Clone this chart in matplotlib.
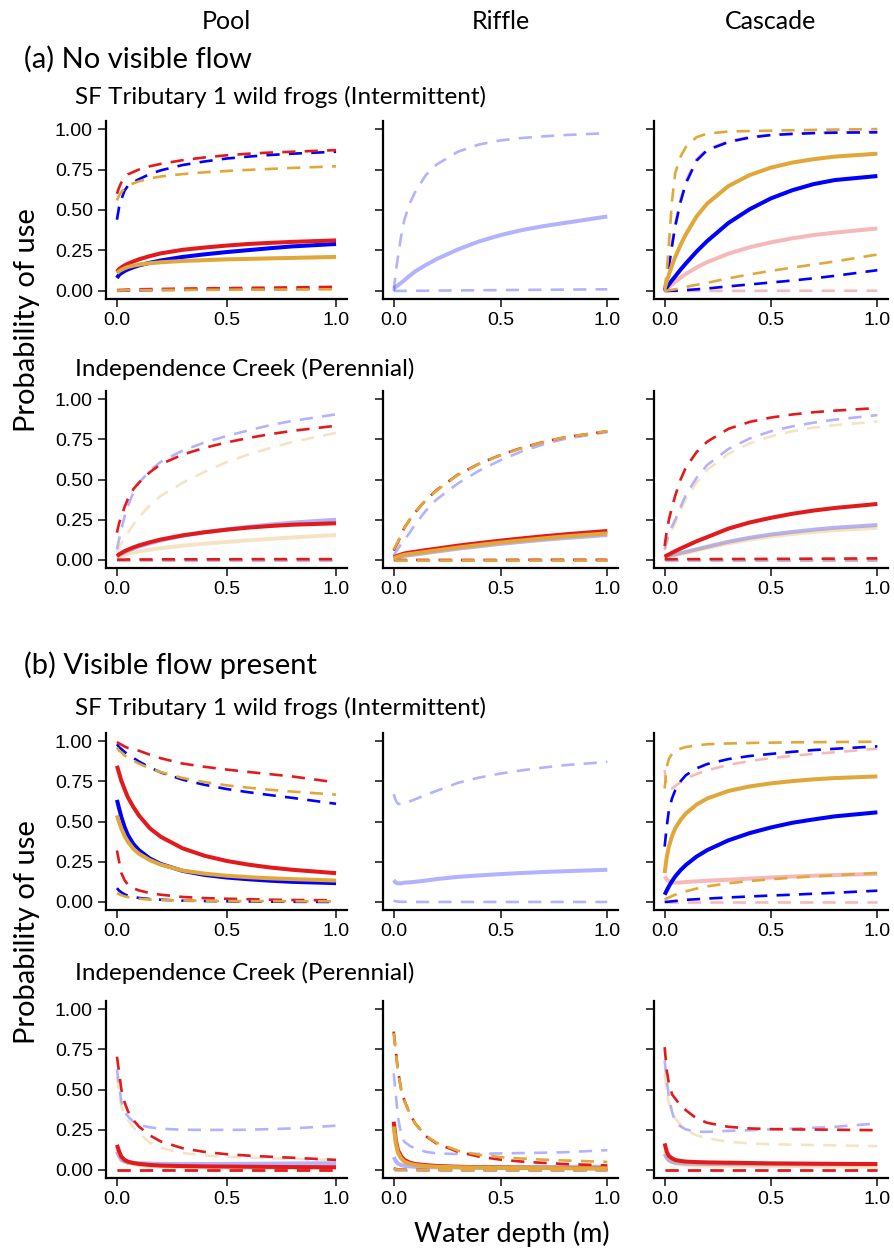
import matplotlib.pyplot as plt

W, H = 894, 1251

depth = [0, 0.01, 0.02, 0.035, 0.05, 0.075, 0.1, 0.15, 0.2, 0.3, 0.4, 0.5, 0.6, 0.7, 0.8, 1.0]

col_titles = ["Pool", "Riffle", "Cascade"]
site_titles = ["SF Tributary 1 wild frogs (Intermittent)", "Independence Creek (Perennial)"]
flow_titles = ["(a) No visible flow", "(b) Visible flow present"]
x_ticks = [0.0, 0.5, 1.0]
x_ticklabels = ["0.0", "0.5", "1.0"]
y_ticks = [0.0, 0.25, 0.5, 0.75, 1.0]
y_ticklabels = ["0.00", "0.25", "0.50", "0.75", "1.00"]

# ---- (a) no visible flow, SF Tributary 1 ----
a_sf_pool_blue_lo = [0.0, 0.001, 0.001, 0.002, 0.002, 0.003, 0.004, 0.005, 0.006, 0.007, 0.008, 0.009, 0.01, 0.011, 0.012, 0.015]
a_sf_pool_blue_mid = [0.08, 0.10, 0.11, 0.123, 0.133, 0.146, 0.157, 0.174, 0.188, 0.21, 0.226, 0.24, 0.252, 0.264, 0.275, 0.29]
a_sf_pool_blue_hi = [0.44, 0.52, 0.565, 0.62, 0.65, 0.672, 0.69, 0.722, 0.745, 0.778, 0.80, 0.818, 0.83, 0.84, 0.848, 0.86]
a_sf_pool_red_lo = [0.005, 0.006, 0.006, 0.007, 0.008, 0.009, 0.01, 0.011, 0.012, 0.014, 0.016, 0.017, 0.019, 0.02, 0.022, 0.025]
a_sf_pool_red_mid = [0.12, 0.135, 0.145, 0.158, 0.168, 0.182, 0.195, 0.215, 0.232, 0.254, 0.268, 0.28, 0.29, 0.297, 0.303, 0.312]
a_sf_pool_red_hi = [0.60, 0.64, 0.67, 0.70, 0.72, 0.735, 0.75, 0.77, 0.785, 0.808, 0.825, 0.838, 0.848, 0.855, 0.86, 0.87]
a_sf_pool_gold_lo = [0.002, 0.002, 0.003, 0.003, 0.004, 0.004, 0.005, 0.005, 0.006, 0.006, 0.007, 0.007, 0.008, 0.008, 0.009, 0.01]
a_sf_pool_gold_mid = [0.11, 0.122, 0.13, 0.14, 0.148, 0.156, 0.162, 0.171, 0.177, 0.185, 0.19, 0.195, 0.198, 0.201, 0.204, 0.21]
a_sf_pool_gold_hi = [0.56, 0.59, 0.61, 0.635, 0.65, 0.665, 0.677, 0.695, 0.707, 0.722, 0.733, 0.741, 0.748, 0.754, 0.76, 0.77]

a_sf_riffle_blue_lo = [0.0, 0.0, 0.0, 0.0, 0.0, 0.001, 0.001, 0.001, 0.002, 0.003, 0.004, 0.005, 0.006, 0.007, 0.008, 0.01]
a_sf_riffle_blue_mid = [0.015, 0.025, 0.035, 0.05, 0.066, 0.094, 0.12, 0.16, 0.196, 0.256, 0.306, 0.345, 0.376, 0.40, 0.42, 0.46]
a_sf_riffle_blue_hi = [0.0, 0.12, 0.21, 0.34, 0.44, 0.54, 0.61, 0.715, 0.78, 0.86, 0.905, 0.93, 0.945, 0.955, 0.963, 0.975]

a_sf_cascade_red_lo = [0.0, 0.0, 0.0, 0.0, 0.0, 0.0, 0.0, 0.0, 0.0, 0.0, 0.0, 0.001, 0.001, 0.001, 0.001, 0.001]
a_sf_cascade_red_mid = [0.0, 0.012, 0.024, 0.04, 0.056, 0.082, 0.105, 0.145, 0.178, 0.23, 0.27, 0.30, 0.325, 0.345, 0.36, 0.386]
a_sf_cascade_red_hi = [0.0, 0.08, 0.16, 0.30, 0.42, 0.57, 0.68, 0.815, 0.875, 0.925, 0.952, 0.966, 0.972, 0.977, 0.98, 0.985]
a_sf_cascade_blue_lo = [0.0, 0.0, 0.0, 0.001, 0.001, 0.003, 0.005, 0.01, 0.015, 0.028, 0.04, 0.052, 0.064, 0.078, 0.093, 0.128]
a_sf_cascade_blue_mid = [0.005, 0.022, 0.04, 0.066, 0.09, 0.132, 0.17, 0.243, 0.308, 0.42, 0.505, 0.572, 0.622, 0.66, 0.685, 0.71]
a_sf_cascade_blue_hi = [0.0, 0.07, 0.15, 0.28, 0.40, 0.55, 0.665, 0.805, 0.87, 0.92, 0.948, 0.963, 0.97, 0.975, 0.978, 0.98]
a_sf_cascade_gold_lo = [0.0, 0.002, 0.004, 0.007, 0.01, 0.017, 0.025, 0.038, 0.05, 0.078, 0.102, 0.124, 0.144, 0.163, 0.182, 0.225]
a_sf_cascade_gold_mid = [0.015, 0.06, 0.1, 0.16, 0.21, 0.285, 0.35, 0.46, 0.54, 0.648, 0.716, 0.762, 0.793, 0.814, 0.83, 0.848]
a_sf_cascade_gold_hi = [0.0, 0.12, 0.29, 0.56, 0.73, 0.83, 0.89, 0.95, 0.972, 0.985, 0.988, 0.99, 0.993, 0.995, 0.997, 1.0]

# ---- (a) no visible flow, Independence Creek ----
a_ind_pool_red_lo = [0.001, 0.002, 0.002, 0.002, 0.003, 0.003, 0.003, 0.003, 0.004, 0.004, 0.004, 0.004, 0.005, 0.005, 0.005, 0.005]
a_ind_pool_red_mid = [0.025, 0.035, 0.043, 0.055, 0.064, 0.078, 0.09, 0.11, 0.127, 0.153, 0.172, 0.188, 0.201, 0.211, 0.219, 0.228]
a_ind_pool_red_hi = [0.17, 0.23, 0.27, 0.33, 0.38, 0.44, 0.48, 0.545, 0.595, 0.655, 0.697, 0.73, 0.758, 0.782, 0.802, 0.834]
a_ind_pool_blue_lo = [0.001, 0.001, 0.001, 0.001, 0.001, 0.001, 0.001, 0.001, 0.001, 0.001, 0.001, 0.001, 0.001, 0.001, 0.001, 0.001]
a_ind_pool_blue_mid = [0.02, 0.03, 0.037, 0.048, 0.057, 0.071, 0.083, 0.103, 0.121, 0.15, 0.172, 0.19, 0.206, 0.22, 0.232, 0.25]
a_ind_pool_blue_hi = [0.066, 0.13, 0.19, 0.27, 0.336, 0.42, 0.478, 0.555, 0.61, 0.68, 0.73, 0.77, 0.805, 0.838, 0.864, 0.905]
a_ind_pool_gold_lo = [0.0, 0.0, 0.0, 0.0, 0.0, 0.0, 0.0, 0.0, 0.0, 0.0, 0.0, 0.0, 0.0, 0.0, 0.0, 0.0]
a_ind_pool_gold_mid = [0.015, 0.02, 0.025, 0.032, 0.038, 0.046, 0.053, 0.064, 0.073, 0.089, 0.101, 0.112, 0.122, 0.131, 0.14, 0.155]
a_ind_pool_gold_hi = [0.046, 0.08, 0.10, 0.14, 0.17, 0.22, 0.265, 0.34, 0.398, 0.48, 0.548, 0.608, 0.655, 0.696, 0.733, 0.79]

a_ind_riffle_red_lo = [0.0, 0.0, 0.0, 0.0, 0.0, 0.0, 0.0, 0.0, 0.0, 0.0, 0.0, 0.0, 0.001, 0.001, 0.001, 0.001]
a_ind_riffle_red_mid = [0.015, 0.022, 0.027, 0.034, 0.04, 0.046, 0.051, 0.061, 0.07, 0.089, 0.105, 0.12, 0.134, 0.147, 0.159, 0.18]
a_ind_riffle_red_hi = [0.058, 0.085, 0.11, 0.155, 0.20, 0.25, 0.295, 0.372, 0.433, 0.53, 0.598, 0.652, 0.697, 0.733, 0.762, 0.80]
a_ind_riffle_blue_lo = [0.0, 0.0, 0.0, 0.0, 0.0, 0.0, 0.0, 0.0, 0.0, 0.0, 0.0, 0.0, 0.0, 0.0, 0.0, 0.0]
a_ind_riffle_blue_mid = [0.008, 0.012, 0.016, 0.021, 0.025, 0.03, 0.034, 0.043, 0.052, 0.07, 0.085, 0.10, 0.113, 0.125, 0.136, 0.155]
a_ind_riffle_blue_hi = [0.027, 0.05, 0.07, 0.10, 0.125, 0.17, 0.22, 0.305, 0.375, 0.475, 0.555, 0.62, 0.675, 0.718, 0.752, 0.795]
a_ind_riffle_gold_lo = [0.0, 0.0, 0.0, 0.0, 0.0, 0.0, 0.0, 0.0, 0.0, 0.0, 0.0, 0.0, 0.0, 0.0, 0.0, 0.0]
a_ind_riffle_gold_mid = [0.01, 0.016, 0.021, 0.027, 0.032, 0.037, 0.041, 0.05, 0.059, 0.077, 0.093, 0.108, 0.121, 0.134, 0.146, 0.165]
a_ind_riffle_gold_hi = [0.065, 0.09, 0.115, 0.16, 0.20, 0.25, 0.295, 0.37, 0.43, 0.528, 0.597, 0.65, 0.695, 0.732, 0.762, 0.80]

a_ind_cascade_red_lo = [0.004, 0.004, 0.004, 0.004, 0.005, 0.005, 0.005, 0.005, 0.005, 0.006, 0.006, 0.007, 0.007, 0.008, 0.008, 0.01]
a_ind_cascade_red_mid = [0.02, 0.028, 0.034, 0.045, 0.055, 0.071, 0.086, 0.116, 0.142, 0.195, 0.233, 0.262, 0.287, 0.307, 0.323, 0.348]
a_ind_cascade_red_hi = [0.087, 0.18, 0.25, 0.33, 0.40, 0.50, 0.575, 0.67, 0.735, 0.815, 0.858, 0.885, 0.904, 0.918, 0.928, 0.944]
a_ind_cascade_blue_lo = [0.002, 0.002, 0.002, 0.002, 0.002, 0.002, 0.002, 0.002, 0.002, 0.002, 0.002, 0.002, 0.002, 0.002, 0.002, 0.002]
a_ind_cascade_blue_mid = [0.015, 0.02, 0.024, 0.03, 0.035, 0.043, 0.05, 0.066, 0.082, 0.113, 0.138, 0.158, 0.174, 0.188, 0.2, 0.217]
a_ind_cascade_blue_hi = [0.066, 0.12, 0.16, 0.21, 0.25, 0.33, 0.405, 0.51, 0.59, 0.69, 0.755, 0.8, 0.83, 0.853, 0.872, 0.90]
a_ind_cascade_gold_lo = [0.002, 0.002, 0.002, 0.002, 0.002, 0.002, 0.002, 0.002, 0.002, 0.002, 0.002, 0.002, 0.002, 0.002, 0.002, 0.002]
a_ind_cascade_gold_mid = [0.012, 0.017, 0.02, 0.026, 0.03, 0.038, 0.045, 0.06, 0.075, 0.103, 0.127, 0.146, 0.161, 0.174, 0.185, 0.20]
a_ind_cascade_gold_hi = [0.056, 0.10, 0.14, 0.19, 0.23, 0.31, 0.38, 0.48, 0.56, 0.66, 0.725, 0.768, 0.8, 0.822, 0.838, 0.86]

# ---- (b) visible flow present, SF Tributary 1 ----
b_sf_pool_blue_lo = [0.086, 0.07, 0.06, 0.047, 0.039, 0.031, 0.025, 0.018, 0.014, 0.008, 0.006, 0.004, 0.003, 0.002, 0.001, 0.0]
b_sf_pool_blue_mid = [0.634, 0.58, 0.528, 0.465, 0.415, 0.36, 0.322, 0.27, 0.236, 0.193, 0.168, 0.152, 0.141, 0.132, 0.125, 0.117]
b_sf_pool_blue_hi = [0.98, 0.962, 0.95, 0.932, 0.918, 0.895, 0.873, 0.836, 0.805, 0.76, 0.728, 0.702, 0.682, 0.664, 0.647, 0.61]
b_sf_pool_red_lo = [0.32, 0.25, 0.18, 0.135, 0.107, 0.085, 0.072, 0.055, 0.045, 0.031, 0.024, 0.02, 0.017, 0.014, 0.012, 0.01]
b_sf_pool_red_mid = [0.846, 0.80, 0.753, 0.70, 0.65, 0.59, 0.538, 0.458, 0.405, 0.333, 0.287, 0.255, 0.232, 0.214, 0.2, 0.179]
b_sf_pool_red_hi = [0.994, 0.985, 0.978, 0.966, 0.957, 0.948, 0.94, 0.915, 0.893, 0.86, 0.84, 0.823, 0.808, 0.794, 0.78, 0.743]
b_sf_pool_gold_lo = [0.055, 0.048, 0.042, 0.035, 0.03, 0.024, 0.02, 0.015, 0.012, 0.009, 0.007, 0.006, 0.005, 0.005, 0.004, 0.004]
b_sf_pool_gold_mid = [0.538, 0.495, 0.456, 0.41, 0.374, 0.33, 0.30, 0.26, 0.232, 0.195, 0.176, 0.163, 0.154, 0.147, 0.142, 0.133]
b_sf_pool_gold_hi = [0.96, 0.94, 0.93, 0.91, 0.897, 0.878, 0.86, 0.83, 0.807, 0.77, 0.745, 0.725, 0.71, 0.697, 0.686, 0.667]

b_sf_riffle_blue_lo = [0.008, 0.004, 0.002, 0.001, 0.001, 0.0, 0.0, 0.0, 0.0, 0.0, 0.0, 0.0, 0.0, 0.0, 0.0, 0.0]
b_sf_riffle_blue_mid = [0.136, 0.12, 0.115, 0.116, 0.12, 0.122, 0.125, 0.133, 0.142, 0.156, 0.165, 0.173, 0.18, 0.186, 0.191, 0.20]
b_sf_riffle_blue_hi = [0.67, 0.63, 0.61, 0.608, 0.613, 0.625, 0.638, 0.665, 0.69, 0.74, 0.773, 0.798, 0.818, 0.835, 0.85, 0.87]

b_sf_cascade_red_lo = [0.0, 0.0, 0.0, 0.0, 0.0, 0.0, 0.0, 0.0, 0.0, 0.0, 0.0, 0.0, 0.0, 0.0, 0.0, 0.0]
b_sf_cascade_red_mid = [0.159, 0.14, 0.128, 0.122, 0.12, 0.121, 0.124, 0.128, 0.132, 0.138, 0.145, 0.152, 0.158, 0.163, 0.167, 0.175]
b_sf_cascade_red_hi = [0.82, 0.715, 0.70, 0.705, 0.72, 0.745, 0.767, 0.795, 0.818, 0.852, 0.876, 0.894, 0.908, 0.92, 0.93, 0.953]
b_sf_cascade_blue_lo = [0.0, 0.001, 0.002, 0.004, 0.006, 0.01, 0.013, 0.017, 0.021, 0.028, 0.034, 0.04, 0.045, 0.051, 0.057, 0.07]
b_sf_cascade_blue_mid = [0.045, 0.072, 0.097, 0.13, 0.159, 0.198, 0.23, 0.282, 0.322, 0.383, 0.428, 0.463, 0.492, 0.513, 0.532, 0.557]
b_sf_cascade_blue_hi = [0.344, 0.47, 0.57, 0.645, 0.695, 0.75, 0.788, 0.83, 0.857, 0.888, 0.907, 0.92, 0.933, 0.944, 0.952, 0.967]
b_sf_cascade_gold_lo = [0.015, 0.022, 0.028, 0.037, 0.045, 0.056, 0.066, 0.083, 0.097, 0.116, 0.13, 0.141, 0.151, 0.159, 0.166, 0.18]
b_sf_cascade_gold_mid = [0.18, 0.28, 0.344, 0.41, 0.458, 0.51, 0.55, 0.605, 0.643, 0.69, 0.718, 0.737, 0.751, 0.762, 0.77, 0.78]
b_sf_cascade_gold_hi = [0.705, 0.84, 0.89, 0.92, 0.94, 0.953, 0.963, 0.973, 0.98, 0.985, 0.988, 0.99, 0.992, 0.993, 0.994, 0.996]

# ---- (b) visible flow present, Independence Creek ----
b_ind_pool_red_lo = [0.002, 0.002, 0.002, 0.002, 0.002, 0.002, 0.002, 0.002, 0.002, 0.002, 0.002, 0.002, 0.002, 0.002, 0.002, 0.002]
b_ind_pool_red_mid = [0.156, 0.115, 0.083, 0.062, 0.052, 0.043, 0.0375, 0.031, 0.027, 0.024, 0.022, 0.021, 0.02, 0.019, 0.018, 0.017]
b_ind_pool_red_hi = [0.704, 0.604, 0.50, 0.42, 0.365, 0.31, 0.27, 0.215, 0.177, 0.135, 0.112, 0.098, 0.089, 0.082, 0.076, 0.0625]
b_ind_pool_blue_lo = [0.001, 0.001, 0.001, 0.001, 0.001, 0.001, 0.001, 0.001, 0.001, 0.001, 0.001, 0.001, 0.001, 0.001, 0.001, 0.001]
b_ind_pool_blue_mid = [0.115, 0.085, 0.0625, 0.052, 0.046, 0.043, 0.042, 0.04, 0.0375, 0.037, 0.037, 0.0375, 0.038, 0.039, 0.04, 0.042]
b_ind_pool_blue_hi = [0.625, 0.52, 0.427, 0.36, 0.333, 0.30, 0.28, 0.265, 0.256, 0.25, 0.249, 0.249, 0.25, 0.254, 0.258, 0.275]
b_ind_pool_gold_lo = [0.001, 0.001, 0.001, 0.001, 0.001, 0.001, 0.001, 0.001, 0.001, 0.001, 0.001, 0.001, 0.001, 0.001, 0.001, 0.001]
b_ind_pool_gold_mid = [0.13, 0.095, 0.07, 0.053, 0.045, 0.036, 0.03, 0.025, 0.022, 0.018, 0.016, 0.015, 0.014, 0.013, 0.013, 0.012]
b_ind_pool_gold_hi = [0.583, 0.48, 0.396, 0.34, 0.31, 0.265, 0.23, 0.17, 0.137, 0.105, 0.09, 0.082, 0.077, 0.072, 0.069, 0.0625]

b_ind_riffle_red_lo = [0.01, 0.006, 0.004, 0.002, 0.002, 0.001, 0.001, 0.0, 0.0, 0.0, 0.0, 0.0, 0.0, 0.0, 0.0, 0.0]
b_ind_riffle_red_mid = [0.30, 0.185, 0.123, 0.085, 0.062, 0.046, 0.037, 0.03, 0.025, 0.02, 0.017, 0.016, 0.014, 0.013, 0.012, 0.01]
b_ind_riffle_red_hi = [0.86, 0.74, 0.617, 0.50, 0.432, 0.35, 0.29, 0.21, 0.165, 0.113, 0.083, 0.064, 0.052, 0.044, 0.037, 0.028]
b_ind_riffle_blue_lo = [0.0, 0.0, 0.0, 0.0, 0.0, 0.0, 0.0, 0.0, 0.0, 0.0, 0.0, 0.0, 0.0, 0.0, 0.0, 0.0]
b_ind_riffle_blue_mid = [0.08, 0.055, 0.04, 0.03, 0.025, 0.022, 0.02, 0.018, 0.017, 0.016, 0.016, 0.016, 0.017, 0.018, 0.019, 0.02]
b_ind_riffle_blue_hi = [0.60, 0.47, 0.33, 0.22, 0.175, 0.15, 0.134, 0.113, 0.103, 0.099, 0.10, 0.103, 0.105, 0.107, 0.11, 0.123]
b_ind_riffle_gold_lo = [0.006, 0.004, 0.002, 0.001, 0.001, 0.0, 0.0, 0.0, 0.0, 0.0, 0.0, 0.0, 0.0, 0.0, 0.0, 0.0]
b_ind_riffle_gold_mid = [0.27, 0.165, 0.107, 0.072, 0.051, 0.039, 0.031, 0.024, 0.02, 0.017, 0.015, 0.014, 0.013, 0.012, 0.011, 0.01]
b_ind_riffle_gold_hi = [0.85, 0.73, 0.61, 0.50, 0.43, 0.35, 0.29, 0.213, 0.17, 0.12, 0.094, 0.08, 0.071, 0.064, 0.059, 0.05]

b_ind_cascade_red_lo = [0.002, 0.002, 0.002, 0.002, 0.002, 0.002, 0.002, 0.002, 0.002, 0.002, 0.002, 0.002, 0.002, 0.002, 0.002, 0.002]
b_ind_cascade_red_mid = [0.165, 0.113, 0.087, 0.072, 0.062, 0.056, 0.052, 0.049, 0.047, 0.045, 0.043, 0.041, 0.04, 0.039, 0.038, 0.037]
b_ind_cascade_red_hi = [0.763, 0.62, 0.536, 0.47, 0.443, 0.40, 0.371, 0.32, 0.293, 0.268, 0.258, 0.254, 0.252, 0.251, 0.25, 0.247]
b_ind_cascade_blue_lo = [0.001, 0.001, 0.001, 0.001, 0.001, 0.001, 0.001, 0.001, 0.001, 0.001, 0.001, 0.001, 0.001, 0.001, 0.001, 0.001]
b_ind_cascade_blue_mid = [0.10, 0.075, 0.06, 0.05, 0.045, 0.042, 0.04, 0.038, 0.037, 0.036, 0.035, 0.035, 0.035, 0.035, 0.035, 0.035]
b_ind_cascade_blue_hi = [0.68, 0.557, 0.454, 0.36, 0.30, 0.27, 0.252, 0.237, 0.237, 0.243, 0.247, 0.252, 0.256, 0.262, 0.268, 0.289]
b_ind_cascade_gold_lo = [0.001, 0.001, 0.001, 0.001, 0.001, 0.001, 0.001, 0.001, 0.001, 0.001, 0.001, 0.001, 0.001, 0.001, 0.001, 0.001]
b_ind_cascade_gold_mid = [0.12, 0.08, 0.06, 0.048, 0.04, 0.035, 0.032, 0.029, 0.027, 0.026, 0.025, 0.025, 0.024, 0.023, 0.022, 0.02]
b_ind_cascade_gold_hi = [0.60, 0.49, 0.412, 0.36, 0.32, 0.28, 0.247, 0.215, 0.196, 0.175, 0.165, 0.16, 0.157, 0.155, 0.153, 0.148]

colors = {"red": "#e31a1c", "blue": "#0000ff", "gold": "#e0a83a"}

# (colour, faded?, lo, mid, hi) per panel, drawn in this order
panels = [
    [  # row 1
        [("blue", False, a_sf_pool_blue_lo, a_sf_pool_blue_mid, a_sf_pool_blue_hi),
         ("red", False, a_sf_pool_red_lo, a_sf_pool_red_mid, a_sf_pool_red_hi),
         ("gold", False, a_sf_pool_gold_lo, a_sf_pool_gold_mid, a_sf_pool_gold_hi)],
        [("blue", True, a_sf_riffle_blue_lo, a_sf_riffle_blue_mid, a_sf_riffle_blue_hi)],
        [("red", True, a_sf_cascade_red_lo, a_sf_cascade_red_mid, a_sf_cascade_red_hi),
         ("blue", False, a_sf_cascade_blue_lo, a_sf_cascade_blue_mid, a_sf_cascade_blue_hi),
         ("gold", False, a_sf_cascade_gold_lo, a_sf_cascade_gold_mid, a_sf_cascade_gold_hi)],
    ],
    [  # row 2
        [("blue", True, a_ind_pool_blue_lo, a_ind_pool_blue_mid, a_ind_pool_blue_hi),
         ("gold", True, a_ind_pool_gold_lo, a_ind_pool_gold_mid, a_ind_pool_gold_hi),
         ("red", False, a_ind_pool_red_lo, a_ind_pool_red_mid, a_ind_pool_red_hi)],
        [("blue", True, a_ind_riffle_blue_lo, a_ind_riffle_blue_mid, a_ind_riffle_blue_hi),
         ("red", False, a_ind_riffle_red_lo, a_ind_riffle_red_mid, a_ind_riffle_red_hi),
         ("gold", False, a_ind_riffle_gold_lo, a_ind_riffle_gold_mid, a_ind_riffle_gold_hi)],
        [("blue", True, a_ind_cascade_blue_lo, a_ind_cascade_blue_mid, a_ind_cascade_blue_hi),
         ("gold", True, a_ind_cascade_gold_lo, a_ind_cascade_gold_mid, a_ind_cascade_gold_hi),
         ("red", False, a_ind_cascade_red_lo, a_ind_cascade_red_mid, a_ind_cascade_red_hi)],
    ],
    [  # row 3
        [("blue", False, b_sf_pool_blue_lo, b_sf_pool_blue_mid, b_sf_pool_blue_hi),
         ("red", False, b_sf_pool_red_lo, b_sf_pool_red_mid, b_sf_pool_red_hi),
         ("gold", False, b_sf_pool_gold_lo, b_sf_pool_gold_mid, b_sf_pool_gold_hi)],
        [("blue", True, b_sf_riffle_blue_lo, b_sf_riffle_blue_mid, b_sf_riffle_blue_hi)],
        [("red", True, b_sf_cascade_red_lo, b_sf_cascade_red_mid, b_sf_cascade_red_hi),
         ("blue", False, b_sf_cascade_blue_lo, b_sf_cascade_blue_mid, b_sf_cascade_blue_hi),
         ("gold", False, b_sf_cascade_gold_lo, b_sf_cascade_gold_mid, b_sf_cascade_gold_hi)],
    ],
    [  # row 4
        [("blue", True, b_ind_pool_blue_lo, b_ind_pool_blue_mid, b_ind_pool_blue_hi),
         ("gold", True, b_ind_pool_gold_lo, b_ind_pool_gold_mid, b_ind_pool_gold_hi),
         ("red", False, b_ind_pool_red_lo, b_ind_pool_red_mid, b_ind_pool_red_hi)],
        [("blue", True, b_ind_riffle_blue_lo, b_ind_riffle_blue_mid, b_ind_riffle_blue_hi),
         ("red", False, b_ind_riffle_red_lo, b_ind_riffle_red_mid, b_ind_riffle_red_hi),
         ("gold", False, b_ind_riffle_gold_lo, b_ind_riffle_gold_mid, b_ind_riffle_gold_hi)],
        [("blue", True, b_ind_cascade_blue_lo, b_ind_cascade_blue_mid, b_ind_cascade_blue_hi),
         ("gold", True, b_ind_cascade_gold_lo, b_ind_cascade_gold_mid, b_ind_cascade_gold_hi),
         ("red", False, b_ind_cascade_red_lo, b_ind_cascade_red_mid, b_ind_cascade_red_hi)],
    ],
]

title_font = "Lato"
tick_font = "Liberation Sans"

fig = plt.figure(figsize=(W / 100, H / 100), dpi=100)


def fx(px):
    return px / W


def fy(py):
    return 1 - py / H


# panel boxes in pixels
col_px = [(106, 347), (383, 618), (654, 888)]
row_px = [(121, 299), (391, 568), (733, 910), (1001, 1178)]

for r, (top, bot) in enumerate(row_px):
    for c, (left, right) in enumerate(col_px):
        ax = fig.add_axes([fx(left), fy(bot), (right - left) / W, (bot - top) / H])
        for name, faded, lo, mid, hi in panels[r][c]:
            alpha = 0.3 if faded else 1.0
            col = colors[name]
            for band in (lo, hi):
                ax.plot(depth, band, color=col, alpha=alpha, lw=1.9,
                        dashes=(5, 3.5), dash_capstyle="butt", solid_capstyle="butt")
            ax.plot(depth, mid, color=col, alpha=alpha, lw=2.9, solid_capstyle="butt")
        ax.set_xlim(-0.05, 1.05)
        ax.set_ylim(-0.05, 1.05)
        ax.set_xticks(x_ticks)
        ax.set_xticklabels(x_ticklabels)
        ax.set_yticks(y_ticks)
        if c == 0:
            ax.set_yticklabels(y_ticklabels)
        else:
            ax.set_yticklabels([])
        for side in ("top", "right"):
            ax.spines[side].set_visible(False)
        for side in ("left", "bottom"):
            ax.spines[side].set_linewidth(1.6)
            ax.spines[side].set_color("black")
        ax.tick_params(length=5.5, width=1.3, color="#333333", labelsize=14,
                       labelcolor="black", pad=4)
        for lab in ax.get_xticklabels() + ax.get_yticklabels():
            lab.set_fontfamily(tick_font)

# column headings
for c, (left, right) in enumerate(col_px):
    fig.text(fx((left + right) / 2), fy(29), col_titles[c], ha="center", va="baseline",
             fontsize=18, family=title_font)

# flow-condition headings and site headings
flow_base = [68, 674]
site_base = [104, 376, 715, 980]
for i, t in enumerate(flow_titles):
    fig.text(fx(24), fy(flow_base[i]), t, ha="left", va="baseline", fontsize=21, family=title_font)
for i, b in enumerate(site_base):
    fig.text(fx(75), fy(b), site_titles[i % 2], ha="left", va="baseline", fontsize=17.5,
             family=title_font)

for yc in (320, 932):
    fig.text(fx(27), fy(yc), "Probability of use", rotation=90, ha="center", va="center",
             fontsize=21, family=title_font)

fig.text(fx(512), fy(1242), "Water depth (m)", ha="center", va="baseline", fontsize=19.5,
         family=title_font)

fig.savefig("out.png", dpi=100)
